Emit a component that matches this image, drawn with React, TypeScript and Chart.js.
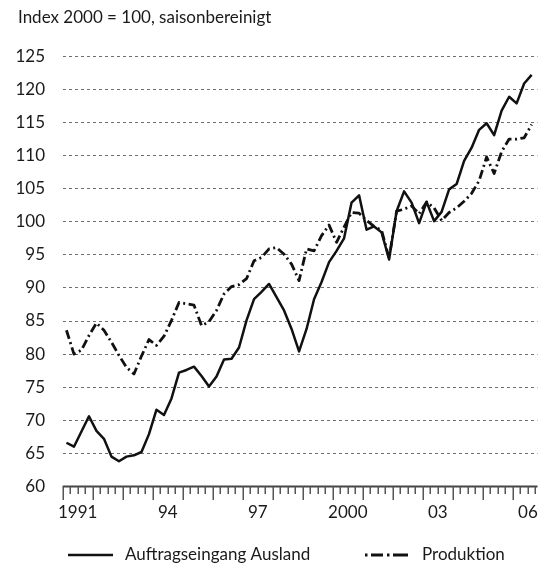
import React, { useEffect, useRef } from "react";
import { Chart, registerables } from "chart.js";

Chart.register(...registerables);

const TITLE = "Index 2000 = 100, saisonbereinigt";
const FONT = "Lato, 'Liberation Sans', sans-serif";
const TEXT = "#1a1a1a";

// Quarterly categories 1991 Q1 .. 2006 Q3
const quarters: string[] = [];
for (let y = 1991; y <= 2006; y++) {
  for (let q = 1; q <= 4; q++) {
    if (y === 2006 && q === 4) continue;
    quarters.push(`${y} Q${q}`);
  }
}

const auftragseingangAusland = [
  66.6, 66.0, 68.3, 70.6, 68.4, 67.2, 64.5, 63.8, 64.5, 64.7, 65.2, 67.9,
  71.6, 70.8, 73.3, 77.2, 77.6, 78.1, 76.7, 75.1, 76.6, 79.2, 79.3, 81.0,
  85.1, 88.3, 89.4, 90.6, 88.6, 86.6, 83.8, 80.4, 83.8, 88.3, 90.9, 93.9,
  95.6, 97.5, 102.9, 104.0, 98.8, 99.3, 98.4, 94.3, 101.6, 104.6, 102.9, 99.8,
  103.0, 100.1, 101.5, 104.9, 105.7, 109.2, 111.2, 113.9, 114.9, 113.1, 116.8, 118.9,
  117.9, 120.9, 122.2,
];

const produktion = [
  83.6, 80.0, 80.6, 82.8, 84.7, 83.6, 81.8, 79.8, 78.0, 77.0, 79.7, 82.2,
  81.3, 82.7, 85.1, 87.8, 87.6, 87.4, 84.3, 84.9, 86.6, 89.1, 90.2, 90.5,
  91.4, 94.1, 94.6, 95.9, 96.1, 95.1, 93.6, 91.1, 95.9, 95.6, 97.9, 99.5,
  96.9, 99.2, 101.4, 101.3, 100.2, 99.3, 98.7, 94.5, 101.6, 101.9, 102.4, 101.2,
  103.0, 102.1, 100.2, 101.4, 102.1, 103.1, 104.3, 106.2, 109.8, 107.3, 110.6, 112.5,
  112.5, 112.7, 114.7,
];

const xLabelYears = [1991, 1994, 1997, 2000, 2003, 2006];
const xLabelTexts = ["1991", "94", "97", "2000", "03", "06"];
const yTicks = [60, 65, 70, 75, 80, 85, 90, 95, 100, 105, 110, 115, 120, 125];

const X_MIN = 1991;
const X_MAX = 2006.82;
const Y_MIN = 60;
const Y_MAX = 125;

function quarterToX(q: string): number {
  const [y, qq] = q.split(" Q");
  return Number(y) + (Number(qq) - 0.5) / 4;
}

const decorPlugin = {
  id: "decor",
  afterDraw(chart: any) {
    const { ctx, chartArea, scales } = chart;
    const xs = scales.x;
    ctx.save();
    // Title
    ctx.fillStyle = TEXT;
    ctx.font = `17px ${FONT}`;
    ctx.textAlign = "left";
    ctx.textBaseline = "alphabetic";
    ctx.fillText(TITLE, 18, 23);

    // x axis line
    const yb = chartArea.bottom;
    ctx.strokeStyle = "#444";
    ctx.lineWidth = 2;
    ctx.setLineDash([]);
    ctx.beginPath();
    ctx.moveTo(chartArea.left, yb);
    ctx.lineTo(chartArea.right, yb);
    ctx.stroke();

    // ticks
    ctx.strokeStyle = "#555";
    ctx.lineWidth = 1.5;
    for (let v = X_MIN; v <= X_MAX + 1e-6; v += 0.25) {
      const x = Math.round(xs.getPixelForValue(v)) + 0.25;
      const major = Math.abs(v - Math.round(v)) < 1e-6;
      ctx.beginPath();
      ctx.moveTo(x, yb);
      ctx.lineTo(x, yb + (major ? 13.5 : 7.5));
      ctx.stroke();
    }

    // x labels
    ctx.fillStyle = TEXT;
    ctx.font = `17px ${FONT}`;
    ctx.textAlign = "center";
    ctx.textBaseline = "alphabetic";
    xLabelYears.forEach((yr, i) => {
      ctx.fillText(xLabelTexts[i], xs.getPixelForValue(yr + 0.5), 518);
    });

    // legend
    const ly = 555;
    ctx.strokeStyle = "#111";
    ctx.lineWidth = 2.5;
    ctx.lineCap = "butt";
    ctx.setLineDash([]);
    ctx.beginPath();
    ctx.moveTo(68, ly);
    ctx.lineTo(113, ly);
    ctx.stroke();
    ctx.lineWidth = 3;
    const segs: [number, number][] = [
      [365, 367.5],
      [371, 383],
      [387, 389.5],
      [393, 408],
    ];
    segs.forEach(([a, b]) => {
      ctx.beginPath();
      ctx.moveTo(a, ly);
      ctx.lineTo(b, ly);
      ctx.stroke();
    });
    ctx.fillStyle = TEXT;
    ctx.textAlign = "left";
    ctx.fillText("Auftragseingang Ausland", 125, 560);
    ctx.fillText("Produktion", 422, 560);
    ctx.restore();
  },
};

export default function App() {
  const ref = useRef<HTMLCanvasElement>(null);
  useEffect(() => {
    const canvas = ref.current;
    if (!canvas) return;
    const chart = new Chart(canvas, {
      type: "line",
      data: {
        datasets: [
          {
            label: "Auftragseingang Ausland",
            data: quarters.map((q, i) => ({ x: quarterToX(q), y: auftragseingangAusland[i] })),
            borderColor: "#111",
            borderWidth: 2.5,
            pointRadius: 0,
            tension: 0,
            fill: false,
            borderJoinStyle: "round",
          },
          {
            label: "Produktion",
            data: quarters.map((q, i) => ({ x: quarterToX(q), y: produktion[i] })),
            borderColor: "#111",
            borderWidth: 2.8,
            borderDash: [9, 3.5, 2, 3.5],
            pointRadius: 0,
            tension: 0,
            fill: false,
            borderJoinStyle: "round",
          },
        ],
      },
      options: {
        responsive: false,
        animation: false,
        layout: { padding: { top: 56.4, bottom: 567 - 486.4, left: 0, right: 0.5 } },
        plugins: {
          legend: { display: false },
          tooltip: { enabled: false },
          title: { display: false },
        },
        scales: {
          x: { type: "linear", display: false, min: X_MIN, max: X_MAX },
          y: {
            type: "linear",
            min: Y_MIN,
            max: Y_MAX,
            afterFit: (s: any) => {
              s.width = 62.7;
            },
            afterBuildTicks: (s: any) => {
              s.ticks = yTicks.map((v) => ({ value: v }));
            },
            ticks: {
              padding: 17.7,
              color: TEXT,
              font: { family: FONT, size: 17 },
            },
            grid: {
              color: (c: any) => (c.tick && c.tick.value === 60 ? "rgba(0,0,0,0)" : "#6f6f6f"),
              lineWidth: 1,
              drawTicks: false,
            },
            border: { display: false, dash: [3, 3] },
          },
        },
      },
      plugins: [decorPlugin],
    } as any);
    return () => chart.destroy();
  }, []);
  return (
    <div style={{ position: "absolute", left: 0, top: 0, width: 538, height: 567, background: "#fff" }}>
      <canvas ref={ref} width={538} height={567} style={{ display: "block", width: 538, height: 567 }} />
    </div>
  );
}
